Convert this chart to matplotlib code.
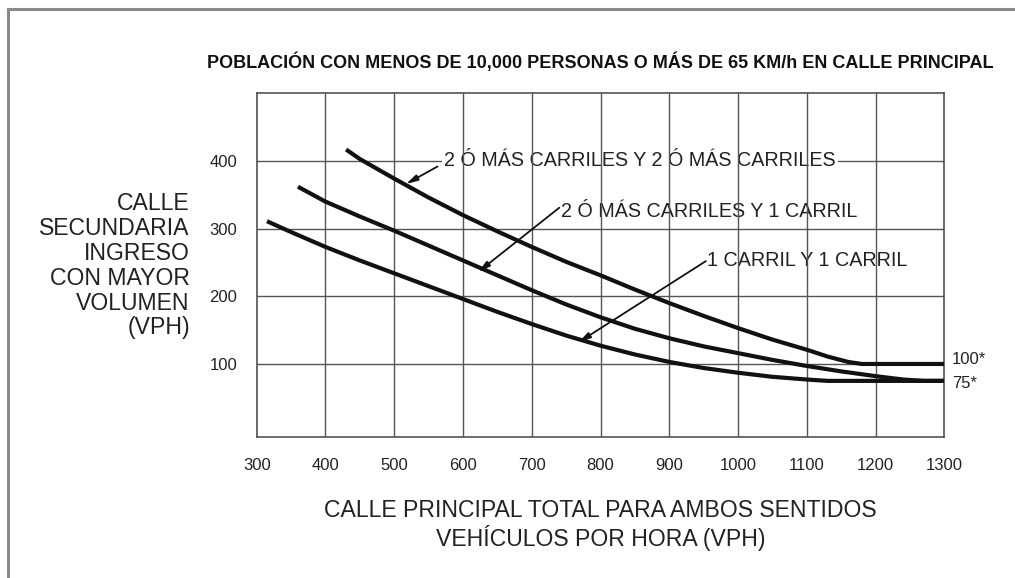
import matplotlib
matplotlib.use("Agg")
import matplotlib.pyplot as plt
from matplotlib import font_manager

# ---- data -------------------------------------------------------------
x_ticks = [300, 400, 500, 600, 700, 800, 900, 1000, 1100, 1200, 1300]
y_ticks = [100, 200, 300, 400]

# 2 or more lanes & 2 or more lanes
two_two_x = [430, 450, 500, 550, 600, 650, 700, 750, 800, 850, 900, 950,
             1000, 1050, 1100, 1130, 1160, 1180, 1300]
two_two_y = [417, 403, 374, 346, 320, 296, 273, 251, 231, 210, 190, 171,
             153, 136, 121, 111, 103, 100, 100]

# 2 or more lanes & 1 lane
two_one_x = [360, 400, 450, 500, 550, 600, 650, 700, 750, 800, 850, 900,
             950, 1000, 1050, 1100, 1150, 1200, 1240, 1270, 1300]
two_one_y = [362, 340, 318, 297, 275, 253, 231, 209, 188, 169, 152, 138,
             126, 116, 106, 97, 89, 82, 77, 75, 75]

# 1 lane & 1 lane
one_one_x = [315, 350, 400, 450, 500, 550, 600, 650, 700, 750, 800, 850,
             900, 950, 1000, 1050, 1100, 1130, 1300]
one_one_y = [311, 295, 273, 253, 234, 215, 196, 177, 159, 142, 127, 114,
             103, 94, 87, 81, 77, 75, 75]

curve_labels = ["2 Ó MÁS CARRILES Y 2 Ó MÁS CARRILES",
                "2 Ó MÁS CARRILES Y 1 CARRIL",
                "1 CARRIL Y 1 CARRIL"]
threshold_labels = ["100*", "75*"]
threshold_values = [100, 75]

title = "POBLACIÓN CON MENOS DE 10,000 PERSONAS O MÁS DE 65 KM/h EN CALLE PRINCIPAL"
x_title = "CALLE PRINCIPAL TOTAL PARA AMBOS SENTIDOS\nVEHÍCULOS POR HORA (VPH)"
y_title = "CALLE\nSECUNDARIA\nINGRESO\nCON MAYOR\nVOLUMEN\n(VPH)"


def pick(families):
    for fam in families:
        try:
            font_manager.findfont(font_manager.FontProperties(family=fam),
                                  fallback_to_default=False)
            return fam
        except Exception:
            continue
    return "DejaVu Sans"


sans = pick(["Liberation Sans", "Arial", "DejaVu Sans"])
narrow = pick(["Liberation Sans Narrow", "Liberation Sans"])
plt.rcParams["font.family"] = [sans, "DejaVu Sans"]

INK = "#111111"
GRID = "#555555"

fig = plt.figure(figsize=(10.15, 5.78), dpi=100)
ax = fig.add_axes([0.2529, 0.2439, 0.6776, 0.5957])
ax.set_xlim(300, 1300)
ax.set_ylim(-8, 501)

# page frame (top and left edges)
fig.add_artist(plt.Line2D([0.0078, 1.0], [0.9844, 0.9844], color="#8a8a8a",
                          lw=2.2, transform=fig.transFigure))
fig.add_artist(plt.Line2D([0.0078, 0.0078], [0.0, 0.9844], color="#8a8a8a",
                          lw=2.2, transform=fig.transFigure))

# grid: horizontals below the label boxes, verticals above them
for yv in y_ticks:
    ax.axhline(yv, color=GRID, lw=1.0, zorder=1)
for xv in x_ticks[1:-1]:
    ax.axvline(xv, color=GRID, lw=1.0, zorder=3)

for sp in ax.spines.values():
    sp.set_color("#444444")
    sp.set_linewidth(1.1)

ax.set_xticks(x_ticks)
ax.set_yticks(y_ticks)
ax.tick_params(length=0, labelsize=12, colors="#222222")
ax.tick_params(axis="x", pad=15)
ax.tick_params(axis="y", pad=14)

# curves
for xs, ys in [(two_two_x, two_two_y), (two_one_x, two_one_y),
               (one_one_x, one_one_y)]:
    ax.plot(xs, ys, color=INK, lw=3.0, solid_capstyle="butt",
            solid_joinstyle="round", zorder=5)

# curve labels with leader arrows
label_pos = [(573, 401), (743, 326), (955, 253)]
arrow_tail = [(563, 392), (740, 331), (953, 252)]
arrow_head = [(517, 366), (622, 236), (768, 132)]
for text, (tx, ty), tail, head in zip(curve_labels, label_pos, arrow_tail,
                                      arrow_head):
    ax.text(tx, ty, text, fontsize=14.2, color="#222222", ha="left",
            va="center", zorder=2,
            bbox=dict(boxstyle="square,pad=0.12", fc="white", ec="none"))
    ax.annotate("", xy=head, xytext=tail, zorder=6,
                arrowprops=dict(arrowstyle="-|>,head_length=0.7,head_width=0.18",
                                color=INK, lw=1.3, shrinkA=0, shrinkB=0))

# threshold labels
for lab, val, dy in zip(threshold_labels, threshold_values, [7, -4]):
    ax.text(1311, val + dy, lab, fontsize=12, color="#222222", ha="left",
            va="center", clip_on=False)

fig.text(0.5916, 0.893, title, fontsize=13, fontweight="bold",
         family=[narrow, "DejaVu Sans"], ha="center", va="center",
         color="#111111")

fig.text(0.5916, 0.0917, x_title, fontsize=16.6, ha="center", va="center",
         linespacing=1.1, color="#222222")
fig.text(0.187, 0.54, y_title, fontsize=16.6, ha="right", va="center",
         linespacing=1.1, color="#222222")

fig.savefig("out.png", dpi=100)
